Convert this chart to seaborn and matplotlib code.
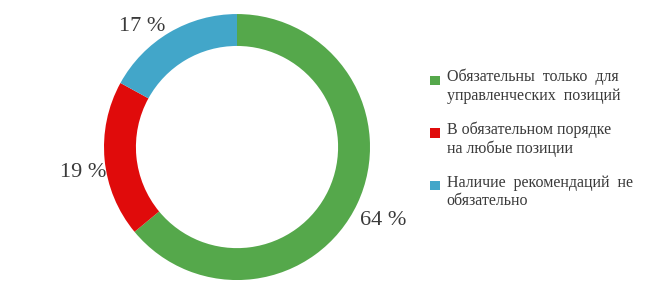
import matplotlib
matplotlib.use("Agg")
import matplotlib.pyplot as plt
import seaborn as sns
from matplotlib.patches import Patch, Rectangle
from matplotlib.legend_handler import HandlerPatch

categories = [
    "Обязательны  только  для\nуправленческих  позиций",
    "В обязательном порядке\nна любые позиции",
    "Наличие  рекомендаций  не\nобязательно",
]
values = [64, 19, 17]
colors = ["#55A84B", "#E00B0B", "#42A6C9"]

sns.set_theme(style="white")
plt.rcParams["font.family"] = ["Liberation Serif", "DejaVu Serif"]
text_color = "#3a3a3a"

fig = plt.figure(figsize=(6.71, 2.89), dpi=100)
ax = fig.add_axes([0.155, 0.031, 266 / 671, 266 / 289])
wedges, _, autotexts = ax.pie(
    values,
    colors=colors,
    startangle=90,
    counterclock=False,
    radius=1.0,
    wedgeprops=dict(width=0.24, edgecolor="none"),
    autopct=lambda p: f"{p:.0f} %",
    pctdistance=1.19,
)
label_pos = [(1.10, -0.555), (-1.16, -0.195), (-0.71, 0.905)]
for t, pos in zip(autotexts, label_pos):
    t.set_fontsize(16)
    t.set_color(text_color)
    t.set_position(pos)
ax.set_xlim(-1, 1)
ax.set_ylim(-1, 1)
ax.set_aspect("equal")
ax.axis("off")


def top_square(legend, orig_handle, xdescent, ydescent, width, height, fontsize):
    s = width
    return Rectangle((-xdescent, -ydescent + height - s - 0.12 * fontsize), s, s)


handles = [Patch(facecolor=c, edgecolor="none") for c in colors]
leg = fig.legend(
    handles, categories,
    loc="upper left",
    bbox_to_anchor=(430 / 671, 1 - 69 / 289),
    frameon=False,
    fontsize=11.5,
    handlelength=0.6,
    handleheight=2.3,
    handletextpad=0.45,
    labelspacing=1.1,
    borderaxespad=0,
    borderpad=0,
    handler_map={Patch: HandlerPatch(patch_func=top_square)},
)
for t in leg.get_texts():
    t.set_color(text_color)

fig.savefig("out.png", dpi=100)
